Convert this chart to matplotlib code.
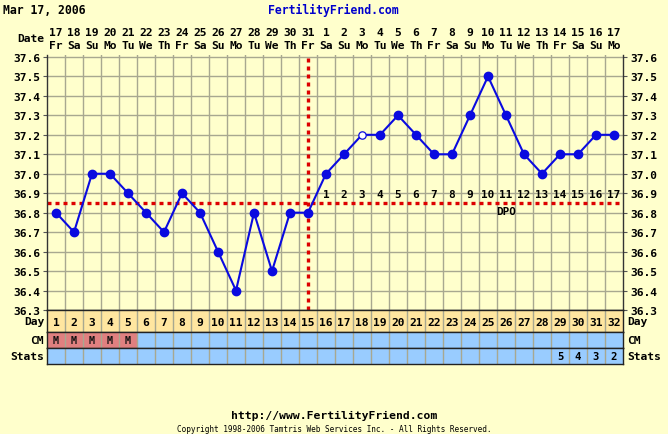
import matplotlib
matplotlib.use("Agg")
import matplotlib.pyplot as plt
from matplotlib.patches import Rectangle

# ---- data ----
cycle_days = list(range(1, 33))
dates = [17, 18, 19, 20, 21, 22, 23, 24, 25, 26, 27, 28, 29, 30, 31,
         1, 2, 3, 4, 5, 6, 7, 8, 9, 10, 11, 12, 13, 14, 15, 16, 17]
weekdays = ["Fr", "Sa", "Su", "Mo", "Tu", "We", "Th", "Fr", "Sa", "Su", "Mo",
            "Tu", "We", "Th", "Fr", "Sa", "Su", "Mo", "Tu", "We", "Th", "Fr",
            "Sa", "Su", "Mo", "Tu", "We", "Th", "Fr", "Sa", "Su", "Mo"]
temps = [36.8, 36.7, 37.0, 37.0, 36.9, 36.8, 36.7, 36.9, 36.8, 36.6, 36.4,
         36.8, 36.5, 36.8, 36.8, 37.0, 37.1, 37.2, 37.2, 37.3, 37.2, 37.1,
         37.1, 37.3, 37.5, 37.3, 37.1, 37.0, 37.1, 37.1, 37.2, 37.2]
open_days = [18]
coverline = 36.85
ovulation_day = 15
dpo_labels = list(range(1, 18))
cm_days = [1, 2, 3, 4, 5]
cm_labels = ["M", "M", "M", "M", "M"]
stats_days = [29, 30, 31, 32]
stats_labels = ["5", "4", "3", "2"]
ytick_vals = [36.3, 36.4, 36.5, 36.6, 36.7, 36.8, 36.9, 37.0, 37.1, 37.2,
              37.3, 37.4, 37.5, 37.6]

# ---- styles ----
BG = "#ffffcc"
GRID = "#a8a890"
BLUE = "#0a0ae0"
RED = "#dd0000"
DAYROW = "#ffe6a0"
CMROW = "#99ccff"
MCELL = "#e08080"
FONT = "DejaVu Sans Mono"
FS = 7.3

W, H = 668, 435
fig = plt.figure(figsize=(W / 100, H / 100), dpi=100, facecolor=BG)

def fx(px):
    return px / W

def fy(py):
    return 1 - py / H

L, R = 47, 623
TOP, BOT = 56, 311
ax = fig.add_axes([fx(L), fy(BOT), fx(R) - fx(L), fy(TOP) - fy(BOT)])
ax.set_facecolor(BG)
ax.set_xlim(0.5, 32.5)
ax.set_ylim(36.3, 37.61)

# grid
for d in range(1, 32):
    ax.axvline(d + 0.5, color=GRID, lw=1.0, zorder=1)
for v in ytick_vals:
    ax.axhline(v, color=GRID, lw=1.0, zorder=1)

ax.set_yticks(ytick_vals)
ax.set_yticklabels([f"{v:.1f}" for v in ytick_vals])
ax.set_xticks([d + 0.5 for d in range(0, 33)])
ax.set_xticklabels([])
ax.tick_params(axis="y", which="both", direction="out", length=3, width=0.8,
               left=True, right=True, labelleft=True, labelright=True,
               pad=2, color="#555555")
ax.tick_params(axis="x", direction="out", length=0, top=False, bottom=False)
for lab in ax.get_yticklabels():
    lab.set_fontfamily(FONT)
    lab.set_fontweight("bold")
    lab.set_fontsize(FS + 0.8)
ax.spines["top"].set_visible(False)
for s in ["left", "right", "bottom"]:
    ax.spines[s].set_color("#333333")
    ax.spines[s].set_linewidth(1.0)

# coverline and ovulation line
ax.axhline(coverline, color=RED, lw=2.4, ls=(0, (1.2, 1.2)), zorder=2)
ax.axvline(ovulation_day, color=RED, lw=2.4, ls=(0, (1.2, 1.2)), zorder=2)

# temperatures
ax.plot(cycle_days, temps, color=BLUE, lw=1.5, zorder=3)
filled_x = [d for d in cycle_days if d not in open_days]
filled_y = [t for d, t in zip(cycle_days, temps) if d not in open_days]
ax.plot(filled_x, filled_y, ls="none", marker="o", ms=6.0, color=BLUE,
        mec=BLUE, zorder=4)
open_x = [d for d in cycle_days if d in open_days]
open_y = [t for d, t in zip(cycle_days, temps) if d in open_days]
ax.plot(open_x, open_y, ls="none", marker="o", ms=5.3, mfc="white",
        mec=BLUE, mew=0.9, zorder=4)

# DPO labels
for i, lab in enumerate(dpo_labels):
    ax.text(ovulation_day + 1 + i, 36.895, str(lab), ha="center", va="center",
            fontfamily=FONT, fontweight="bold", fontsize=FS + 0.6, color="black",
            zorder=5)
ax.text(26, 36.81, "DPO", ha="center", va="center", fontfamily=FONT,
        fontweight="bold", fontsize=FS + 0.6, color="black", zorder=5)

# ---- bottom rows ----
def row_axes(top, bot, color):
    a = fig.add_axes([fx(L), fy(bot), fx(R) - fx(L), fy(top) - fy(bot)])
    a.set_xlim(0.5, 32.5)
    a.set_ylim(0, 1)
    a.set_facecolor(color)
    a.set_xticks([])
    a.set_yticks([])
    for s in a.spines.values():
        s.set_color("#222222")
        s.set_linewidth(1.0)
    for d in range(1, 32):
        a.axvline(d + 0.5, color=GRID, lw=1.0, zorder=1)
    return a

ax_day = row_axes(311, 333, DAYROW)
for d in cycle_days:
    ax_day.text(d, 0.45, str(d), ha="center", va="center", fontfamily=FONT,
                fontweight="bold", fontsize=FS + 0.8, color="black")

ax_cm = row_axes(333, 349, CMROW)
for d, lab in zip(cm_days, cm_labels):
    ax_cm.add_patch(Rectangle((d - 0.5, 0), 1, 1, facecolor=MCELL,
                              edgecolor="none", zorder=0.5))
    ax_cm.text(d, 0.5, lab, ha="center", va="center", fontfamily=FONT,
               fontweight="bold", fontsize=FS, color="#111111", zorder=3)

ax_st = row_axes(349, 365, CMROW)
for d, lab in zip(stats_days, stats_labels):
    ax_st.text(d, 0.5, lab, ha="center", va="center", fontfamily=FONT,
               fontweight="bold", fontsize=FS + 0.4, color="black")

def label(px, py, s, ha="right", **kw):
    fig.text(fx(px), fy(py), s, ha=ha, va="center", fontfamily=FONT,
             fontweight="bold", fontsize=kw.pop("fs", FS + 0.8),
             color=kw.pop("color", "black"), **kw)

label(44, 322, "Day")
label(44, 341, "CM")
label(44, 357, "Stats")
label(627, 322, "Day", ha="left")
label(627, 341, "CM", ha="left")
label(627, 357, "Stats", ha="left")

# header
label(3, 10, "Mar 17, 2006", ha="left", fs=FS + 1.0)
label(333, 10, "FertilityFriend.com", ha="center", fs=FS + 1.0, color="#0000cc")
label(44, 39, "Date")
for d, dt, wd in zip(cycle_days, dates, weekdays):
    xpix = L + (d - 0.5) * (R - L) / 32
    label(xpix, 33, str(dt), ha="center")
    label(xpix, 46, wd, ha="center")

# footer
label(334, 416, "http://www.FertilityFriend.com", ha="center", fs=FS + 0.9)
fig.text(fx(334), fy(430), "Copyright 1998-2006 Tamtris Web Services Inc. - All Rights Reserved.",
         ha="center", va="center", fontfamily=FONT, fontsize=5.6, color="black")

fig.savefig("out.png", dpi=100, facecolor=BG)
